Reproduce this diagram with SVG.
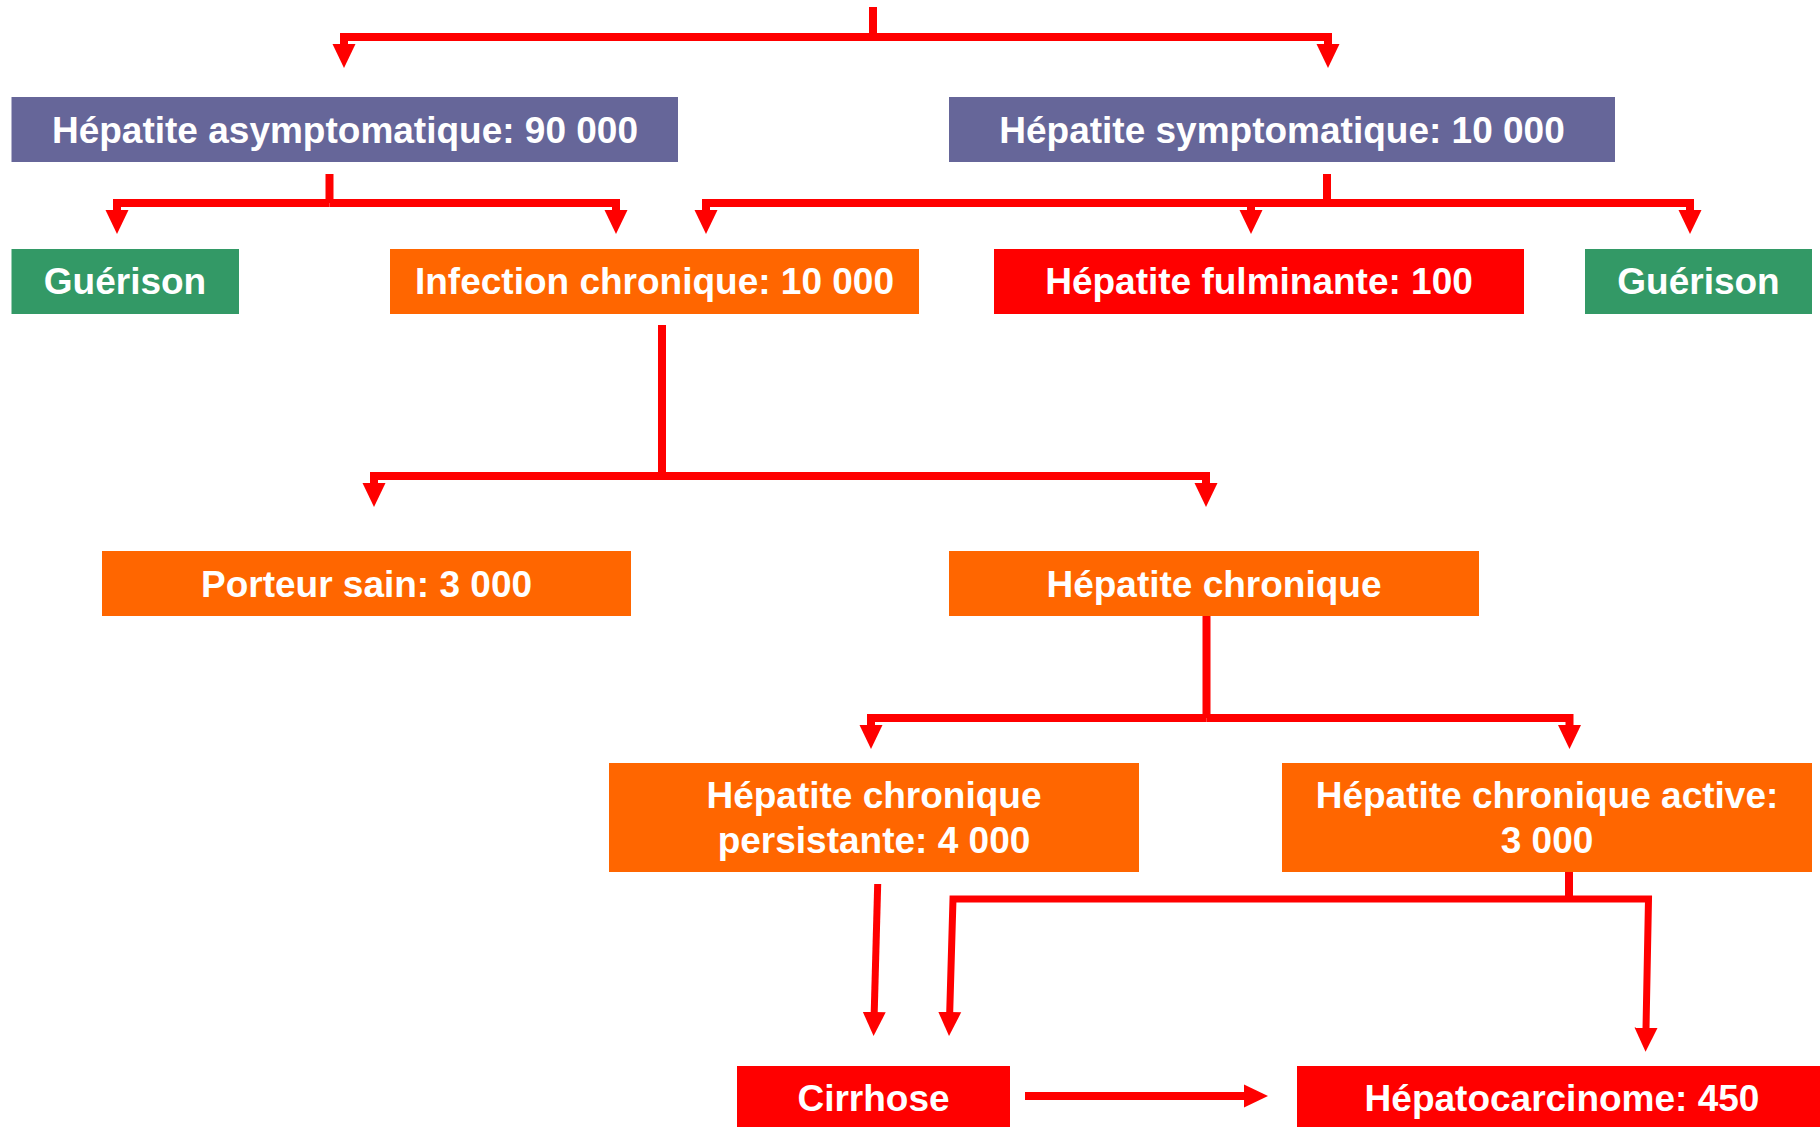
<svg xmlns="http://www.w3.org/2000/svg" width="1820" height="1127" viewBox="0 0 1820 1127">
<defs>
<style>
.box{stroke:none}
.purple{fill:#666699}
.green{fill:#339966}
.orange{fill:#FF6600}
.red{fill:#FF0000}
.lbl{font-family:"Liberation Sans",Arial,sans-serif;font-weight:bold;font-size:37px;fill:#FFFFFF;text-anchor:middle}
.con{fill:none;stroke:#FF0000;stroke-width:8;stroke-linejoin:miter}
.arr{marker-end:url(#ah)}
.thin{stroke-width:7}
</style>
<marker id="ah" markerUnits="userSpaceOnUse" markerWidth="24" markerHeight="24" refX="1" refY="11.5" orient="auto" viewBox="0 0 24 23">
<path d="M0,0 L24,11.5 L0,23 z" fill="#FF0000"/>
</marker>
</defs>
<rect width="1820" height="1127" fill="#FFFFFF"/>
<g id="connectors">
<path class="con" d="M873,7 V37"/>
<path class="con arr" d="M873,37 H344 V45"/>
<path class="con arr" d="M873,37 H1328 V45"/>
<path class="con" d="M329.5,174 V203"/>
<path class="con arr" d="M329.5,203 H117 V211"/>
<path class="con arr" d="M329.5,203 H616 V211"/>
<path class="con" d="M1327,174 V203"/>
<path class="con arr" d="M1327,203 H706 V211"/>
<path class="con arr" d="M1327,203 H1251 V211"/>
<path class="con arr" d="M1327,203 H1690 V211"/>
<path class="con" d="M662,325 V476"/>
<path class="con arr" d="M662,476 H374 V484"/>
<path class="con arr" d="M662,476 H1206 V484"/>
<path class="con" d="M1206.5,612 V718"/>
<path class="con arr" d="M1206.5,718 H871 V726"/>
<path class="con arr" d="M1206.5,718 H1569.5 V726"/>
<path class="con thin arr" d="M877.7,884 L874.2,1013"/>
<path class="con" d="M1569,869 V899"/>
<path class="con thin arr" d="M1569,899 H953 L949.7,1013"/>
<path class="con thin arr" d="M1569,899 H1648.5 L1646,1028.7"/>
<path class="con arr" d="M1025,1096 H1245"/>
</g>
<g id="n-asym"><rect class="box purple" x="11.5" y="97" width="666.5" height="65"/><text class="lbl" x="345" y="143">Hépatite asymptomatique: 90 000</text></g>
<g id="n-sym"><rect class="box purple" x="949" y="97" width="666" height="65"/><text class="lbl" x="1282" y="143">Hépatite symptomatique: 10 000</text></g>
<g id="n-guer1"><rect class="box green" x="11.5" y="249" width="227.5" height="65"/><text class="lbl" x="125" y="294">Guérison</text></g>
<g id="n-infect"><rect class="box orange" x="390" y="249" width="529" height="65"/><text class="lbl" x="654.5" y="294">Infection chronique: 10 000</text></g>
<g id="n-fulm"><rect class="box red" x="994" y="249" width="530" height="65"/><text class="lbl" x="1259" y="294">Hépatite fulminante: 100</text></g>
<g id="n-guer2"><rect class="box green" x="1585" y="249" width="227" height="65"/><text class="lbl" x="1698.5" y="294">Guérison</text></g>
<g id="n-porteur"><rect class="box orange" x="102" y="551" width="529" height="65"/><text class="lbl" x="366.5" y="597">Porteur sain: 3 000</text></g>
<g id="n-hchron"><rect class="box orange" x="949" y="551" width="530" height="65"/><text class="lbl" x="1214" y="597">Hépatite chronique</text></g>
<g id="n-persist"><rect class="box orange" x="609" y="763" width="530" height="109"/><text class="lbl" x="874" y="808">Hépatite chronique</text><text class="lbl" x="874" y="853">persistante: 4 000</text></g>
<g id="n-active"><rect class="box orange" x="1282" y="763" width="530" height="109"/><text class="lbl" x="1547" y="808">Hépatite chronique active:</text><text class="lbl" x="1547" y="853">3 000</text></g>
<g id="n-cirrh"><rect class="box red" x="737" y="1066" width="273" height="61"/><text class="lbl" x="873.5" y="1111">Cirrhose</text></g>
<g id="n-hcc"><rect class="box red" x="1297" y="1066" width="523" height="61"/><text class="lbl" x="1562" y="1111">Hépatocarcinome: 450</text></g>
</svg>
